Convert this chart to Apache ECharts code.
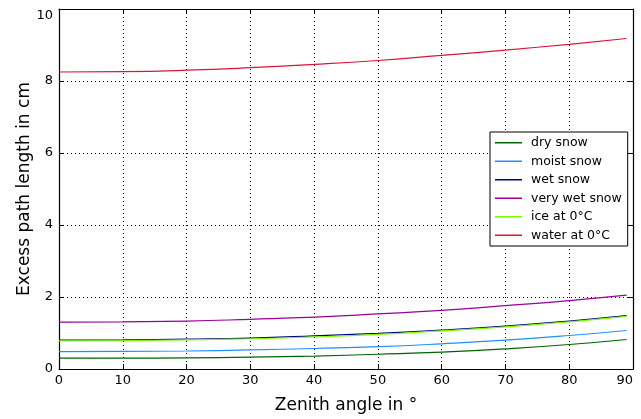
<!DOCTYPE html>
<html>
<head>
<meta charset="utf-8">
<script src="https://cdn.jsdelivr.net/npm/echarts@6/dist/echarts.min.js"></script>
<style>
  html, body { margin: 0; padding: 0; background: #fff; }
  #chart { width: 641px; height: 419px; }
</style>
</head>
<body>
<div id="chart"></div>
<script>
// Zenith angles (degrees) at which the excess path length is given
var angles = [0, 10, 20, 30, 40, 50, 60, 70, 80, 89];

// Excess path length (cm) for each medium
var drySnow     = [0.30, 0.30, 0.31, 0.33, 0.36, 0.41, 0.47, 0.56, 0.68, 0.82];
var moistSnow   = [0.48, 0.49, 0.50, 0.53, 0.57, 0.62, 0.70, 0.80, 0.93, 1.07];
var wetSnow     = [0.80, 0.81, 0.83, 0.86, 0.92, 0.99, 1.08, 1.19, 1.33, 1.48];
var veryWetSnow = [1.30, 1.31, 1.33, 1.38, 1.44, 1.53, 1.63, 1.76, 1.90, 2.05];
var ice0C       = [0.78, 0.79, 0.81, 0.84, 0.89, 0.96, 1.06, 1.17, 1.31, 1.46];
var water0C     = [8.25, 8.26, 8.30, 8.37, 8.46, 8.57, 8.71, 8.86, 9.02, 9.18];

var seriesNames  = ['dry snow', 'moist snow', 'wet snow', 'very wet snow', 'ice at 0°C', 'water at 0°C'];
var seriesValues = [drySnow, moistSnow, wetSnow, veryWetSnow, ice0C, water0C];
var seriesColors = ['#006400', '#1e90ff', '#000080', '#990099', '#7cfc00', '#dc143c'];

var xTicks = { min: 0, max: 90, step: 10 };
var yTicks = { min: 0, max: 10, step: 2 };

var FONT = 'DejaVu Sans';

function pairs(values) {
  return angles.map(function (a, i) { return [a, values[i]]; });
}

var series = seriesNames.map(function (name, k) {
  return {
    name: name,
    type: 'line',
    xAxisIndex: 0,
    yAxisIndex: 0,
    data: pairs(seriesValues[k]),
    smooth: true,
    showSymbol: false,
    symbol: 'none',
    lineStyle: { color: seriesColors[k], width: 1.2 },
    itemStyle: { color: seriesColors[k] },
    emphasis: { disabled: true },
    animation: false
  };
});

var tickStyle = { show: true, inside: true, length: 5, lineStyle: { color: '#000', width: 1 } };
var frameLine = { show: true, onZero: false, lineStyle: { color: '#000', width: 1.2 } };

var chart = echarts.init(document.getElementById('chart'), null, { renderer: 'canvas' });
chart.setOption({
  animation: false,
  backgroundColor: '#fff',
  grid: { left: 59, right: 8, top: 9, bottom: 48, containLabel: false },
  legend: {
    orient: 'vertical',
    left: 490,
    top: 132,
    data: seriesNames,
    icon: 'rect',
    itemWidth: 27,
    itemHeight: 1.5,
    itemGap: 5,
    padding: [4, 6, 4, 5],
    backgroundColor: '#fff',
    borderColor: '#000',
    borderWidth: 1,
    textStyle: { fontFamily: FONT, fontSize: 12.5, color: '#000', padding: [0, 0, 0, 4], lineHeight: 13.5 },
    selectedMode: false
  },
  xAxis: [{
    type: 'value',
    min: xTicks.min, max: xTicks.max, interval: xTicks.step,
    name: 'Zenith angle in °',
    nameLocation: 'middle',
    nameGap: 28,
    nameMoveOverlap: false,
    nameTextStyle: { fontFamily: FONT, fontSize: 17, color: '#000' },
    axisLine: frameLine,
    axisTick: tickStyle,
    axisLabel: { fontFamily: FONT, fontSize: 13, color: '#000', margin: 5, alignMaxLabel: 'right' },
    splitLine: { show: true, lineStyle: { color: '#000', type: [1, 3], width: 1 } }
  }, {
    type: 'value', position: 'top',
    min: xTicks.min, max: xTicks.max, interval: xTicks.step,
    axisLine: frameLine, axisTick: tickStyle,
    axisLabel: { show: false }, splitLine: { show: false }
  }],
  yAxis: [{
    type: 'value',
    min: yTicks.min, max: yTicks.max, interval: yTicks.step,
    name: 'Excess path length in cm',
    nameLocation: 'middle',
    nameGap: 26,
    nameMoveOverlap: false,
    nameTextStyle: { fontFamily: FONT, fontSize: 17, color: '#000' },
    axisLine: frameLine,
    axisTick: tickStyle,
    axisLabel: { fontFamily: FONT, fontSize: 13, color: '#000', margin: 6, verticalAlignMaxLabel: 'top' },
    splitLine: { show: true, lineStyle: { color: '#000', type: [1, 3], width: 1 } }
  }, {
    type: 'value', position: 'right',
    min: yTicks.min, max: yTicks.max, interval: yTicks.step,
    axisLine: frameLine, axisTick: tickStyle,
    axisLabel: { show: false }, splitLine: { show: false }
  }],
  series: series
});
</script>
</body>
</html>
